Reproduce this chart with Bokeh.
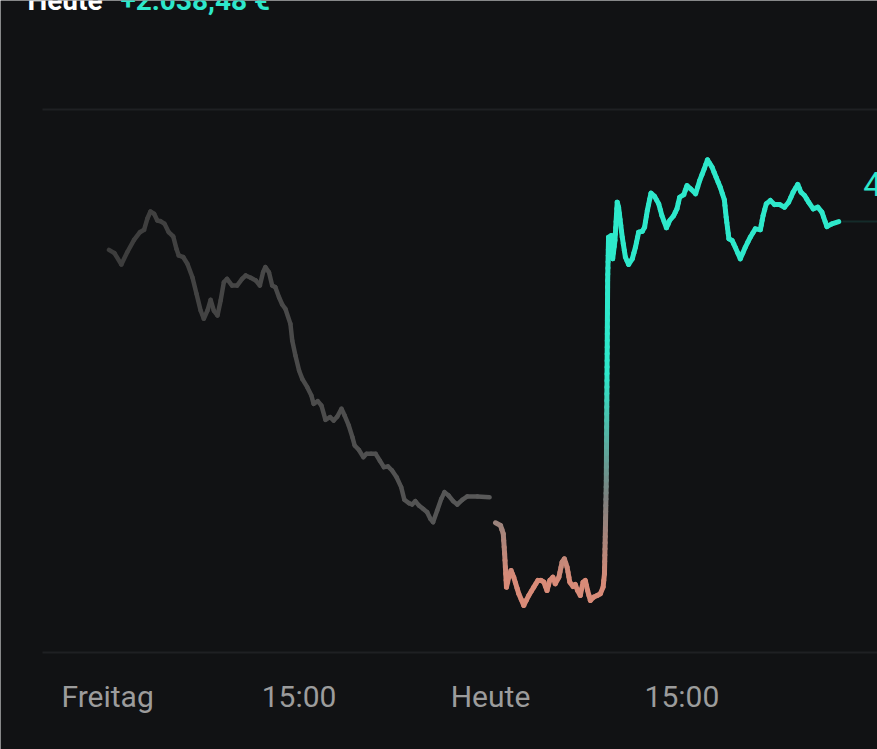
import numpy as np
from bokeh.plotting import figure
from bokeh.models import Range1d, Label
from bokeh.core.properties import value
from bokeh.embed import file_html
from bokeh.resources import INLINE

# ---------------- data ----------------
# time axis: minutes of trading time since Friday 08:00 (overnight gap collapsed)
TICKS = [0, 420, 840, 1260]
TICK_LABELS = ["Freitag", "15:00", "Heute", "15:00"]

# values: € relative to the previous close
fri_t = [3, 15, 30, 43, 58, 71, 80, 87, 94, 102, 109, 116, 125, 134, 144, 151, 156, 166,
         175, 186, 195, 204, 211, 219, 226, 233, 241, 248, 255, 262, 273, 284, 295, 303,
         314, 325, 334, 341, 346, 354, 361, 368, 376, 383, 390, 401, 405, 412, 420, 427,
         438, 447, 452, 461, 469, 478, 488, 496, 504, 513, 520, 529, 537, 542, 551, 561,
         568, 578, 588, 597, 606, 615, 624, 634, 644, 651, 661, 668, 675, 683, 692, 701,
         708, 714, 723, 732, 739, 748, 758, 767, 778, 789, 811, 838]
fri_v = [1828, 1803, 1719, 1810, 1902, 1959, 1977, 2059, 2113, 2096, 2046, 2041, 2021,
         1959, 1927, 1835, 1786, 1773, 1724, 1624, 1501, 1376, 1315, 1376, 1456, 1376,
         1339, 1451, 1587, 1612, 1562, 1562, 1612, 1637, 1620, 1600, 1562, 1661, 1699,
         1661, 1562, 1550, 1475, 1421, 1389, 1277, 1153, 1042, 930, 868, 806, 744, 682,
         702, 670, 563, 583, 558, 588, 645, 595, 521, 434, 372, 340, 285, 310, 310, 310,
         260, 211, 216, 186, 136, 62, -32, -57, -67, -42, -74, -99, -124, -173, -199,
         -112, -25, 25, 0, -42, -67, -32, -7, -7, -13]

today_t = [851, 862, 868, 871, 875, 880, 885, 891, 902, 913, 924, 935, 944, 951, 957, 964,
           970, 977, 982, 990, 997, 1002, 1008, 1014, 1021, 1026, 1031, 1037, 1043, 1048,
           1053, 1059, 1066, 1074, 1081, 1087, 1090, 1092, 1094, 1097, 1099, 1105, 1108,
           1113, 1118, 1121, 1129, 1136, 1143, 1151, 1158, 1165, 1173, 1178, 1184, 1192,
           1200, 1209, 1216, 1226, 1233, 1242, 1249, 1255, 1264, 1271, 1279, 1290, 1299,
           1309, 1316, 1326, 1335, 1344, 1353, 1357, 1363, 1370, 1377, 1388, 1399, 1410,
           1421, 1432, 1438, 1445, 1454, 1463, 1474, 1485, 1494, 1504, 1514, 1521, 1529,
           1538, 1548, 1558, 1567, 1578, 1589, 1604]
today_v = [-203, -223, -285, -434, -682, -608, -558, -608, -731, -818, -744, -682, -632,
           -632, -645, -707, -632, -608, -657, -608, -496, -471, -533, -645, -677, -662,
           -707, -744, -645, -632, -707, -781, -757, -744, -731, -682, -583, -260, 112,
           1600, 1922, 1934, 1761, 1897, 2182, 2145, 1922, 1773, 1719, 1761, 1847, 1959,
           1966, 1996, 2120, 2249, 2225, 2170, 2083, 1992, 2046, 2083, 2133, 2219, 2239,
           2306, 2282, 2245, 2344, 2431, 2498, 2443, 2368, 2294, 2200, 2071, 1910, 1897,
           1847, 1761, 1847, 1922, 1984, 1977, 2083, 2170, 2195, 2165, 2165, 2145, 2182,
           2257, 2314, 2257, 2232, 2182, 2133, 2145, 2108, 2001, 2021, 2038]

GRID_LEVELS = [2872, -1168]
TITLE_LEFT = "Heute"
TITLE_RIGHT = "+2.038,48 €"
RIGHT_LABEL = "4"

# ---------------- style ----------------
BG = "#111214"
GRID = "#1f2023"
TEAL = "#2ee8cb"
SALMON = "#d98b78"
MIDGREY = "#7c7f7e"
FRI_START = "#3c3c3c"
FRI_END = "#595959"
LABEL = "#9c9c9c"
LW = 4.5

X0, X1 = -235, 1689
Y0, Y1 = -1890, 3683
LABEL_Y = -1496


def rgb(h):
    return np.array([int(h[i:i + 2], 16) for i in (1, 3, 5)], dtype=float)


def tohex(c):
    c = np.clip(np.round(c), 0, 255).astype(int)
    return "#%02x%02x%02x" % tuple(c)


def mix(a, b, f):
    return tohex(rgb(a) * (1 - f) + rgb(b) * f)


def today_color(v, top=930.0, bottom=-632.0):
    if v >= 0:
        f = min(v / top, 1.0)
        return mix(MIDGREY, TEAL, f)
    f = min(v / bottom, 1.0)
    return mix(MIDGREY, SALMON, f)


p = figure(width=877, height=749, output_backend="svg", toolbar_location=None,
           x_range=Range1d(X0, X1), y_range=Range1d(Y0, Y1),
           min_border=0, background_fill_color=BG, border_fill_color=BG,
           outline_line_color=None)
p.grid.visible = False
p.axis.visible = False

# grid lines (start a bit right of the left edge)
p.segment(x0=[-143] * len(GRID_LEVELS), x1=[X1] * len(GRID_LEVELS),
          y0=GRID_LEVELS, y1=GRID_LEVELS, line_color=GRID, line_width=2)

# time labels along the bottom
p.text(x=TICKS, y=[LABEL_Y] * len(TICKS), text=TICK_LABELS, text_color=LABEL,
       text_font_size="30px", text_font=value("Roboto"), text_align="center",
       text_baseline="alphabetic")

# Friday line: horizontal grey gradient
ft = np.array(fri_t, float)
fv = np.array(fri_v, float)
fcols = [mix(FRI_START, FRI_END, ((ft[i] + ft[i + 1]) / 2 - ft[0]) / (ft[-1] - ft[0]))
         for i in range(len(ft) - 1)]
p.segment(x0=ft[:-1], y0=fv[:-1], x1=ft[1:], y1=fv[1:], line_color=fcols,
          line_width=LW, line_cap="round", line_join="round")

# Today line: vertical gradient salmon -> grey -> teal (drawn as short pieces)
tt = np.array(today_t, float)
tv = np.array(today_v, float)
x0s, y0s, x1s, y1s, cols = [], [], [], [], []
for i in range(len(tt) - 1):
    n = max(1, int(abs(tv[i + 1] - tv[i]) // 50) + 1)
    fr = np.linspace(0, 1, n + 1)
    xs = tt[i] + (tt[i + 1] - tt[i]) * fr
    ys = tv[i] + (tv[i + 1] - tv[i]) * fr
    for j in range(n):
        x0s.append(xs[j]); y0s.append(ys[j]); x1s.append(xs[j + 1]); y1s.append(ys[j + 1])
        cols.append(today_color((ys[j] + ys[j + 1]) / 2))
p.segment(x0=x0s, y0=y0s, x1=x1s, y1=y1s, line_color=cols, line_width=LW + 0.5,
          line_cap="round", line_join="round")

# faint guide from last point to the right edge
p.segment(x0=[tt[-1] + 8], y0=[tv[-1]], x1=[X1], y1=[tv[-1]], line_color=TEAL,
          line_alpha=0.12, line_width=2)

# right value label (cut off by the edge)
p.add_layout(Label(x=1658, y=2321, text=RIGHT_LABEL, text_color=TEAL,
                   text_font="Roboto", text_font_size="34px",
                   text_baseline="alphabetic", text_align="left"))

# header (mostly above the visible area)
p.add_layout(Label(x=-176, y=Y1, text=TITLE_LEFT, text_color="#ffffff",
                   text_font="Roboto", text_font_size="28px", text_font_style="bold",
                   text_baseline="alphabetic", text_align="left"))
p.add_layout(Label(x=28, y=Y1, text=TITLE_RIGHT, text_color=TEAL,
                   text_font="Roboto", text_font_size="28px", text_font_style="bold",
                   text_baseline="alphabetic", text_align="left"))

open("out.html", "w").write(file_html(p, INLINE))
